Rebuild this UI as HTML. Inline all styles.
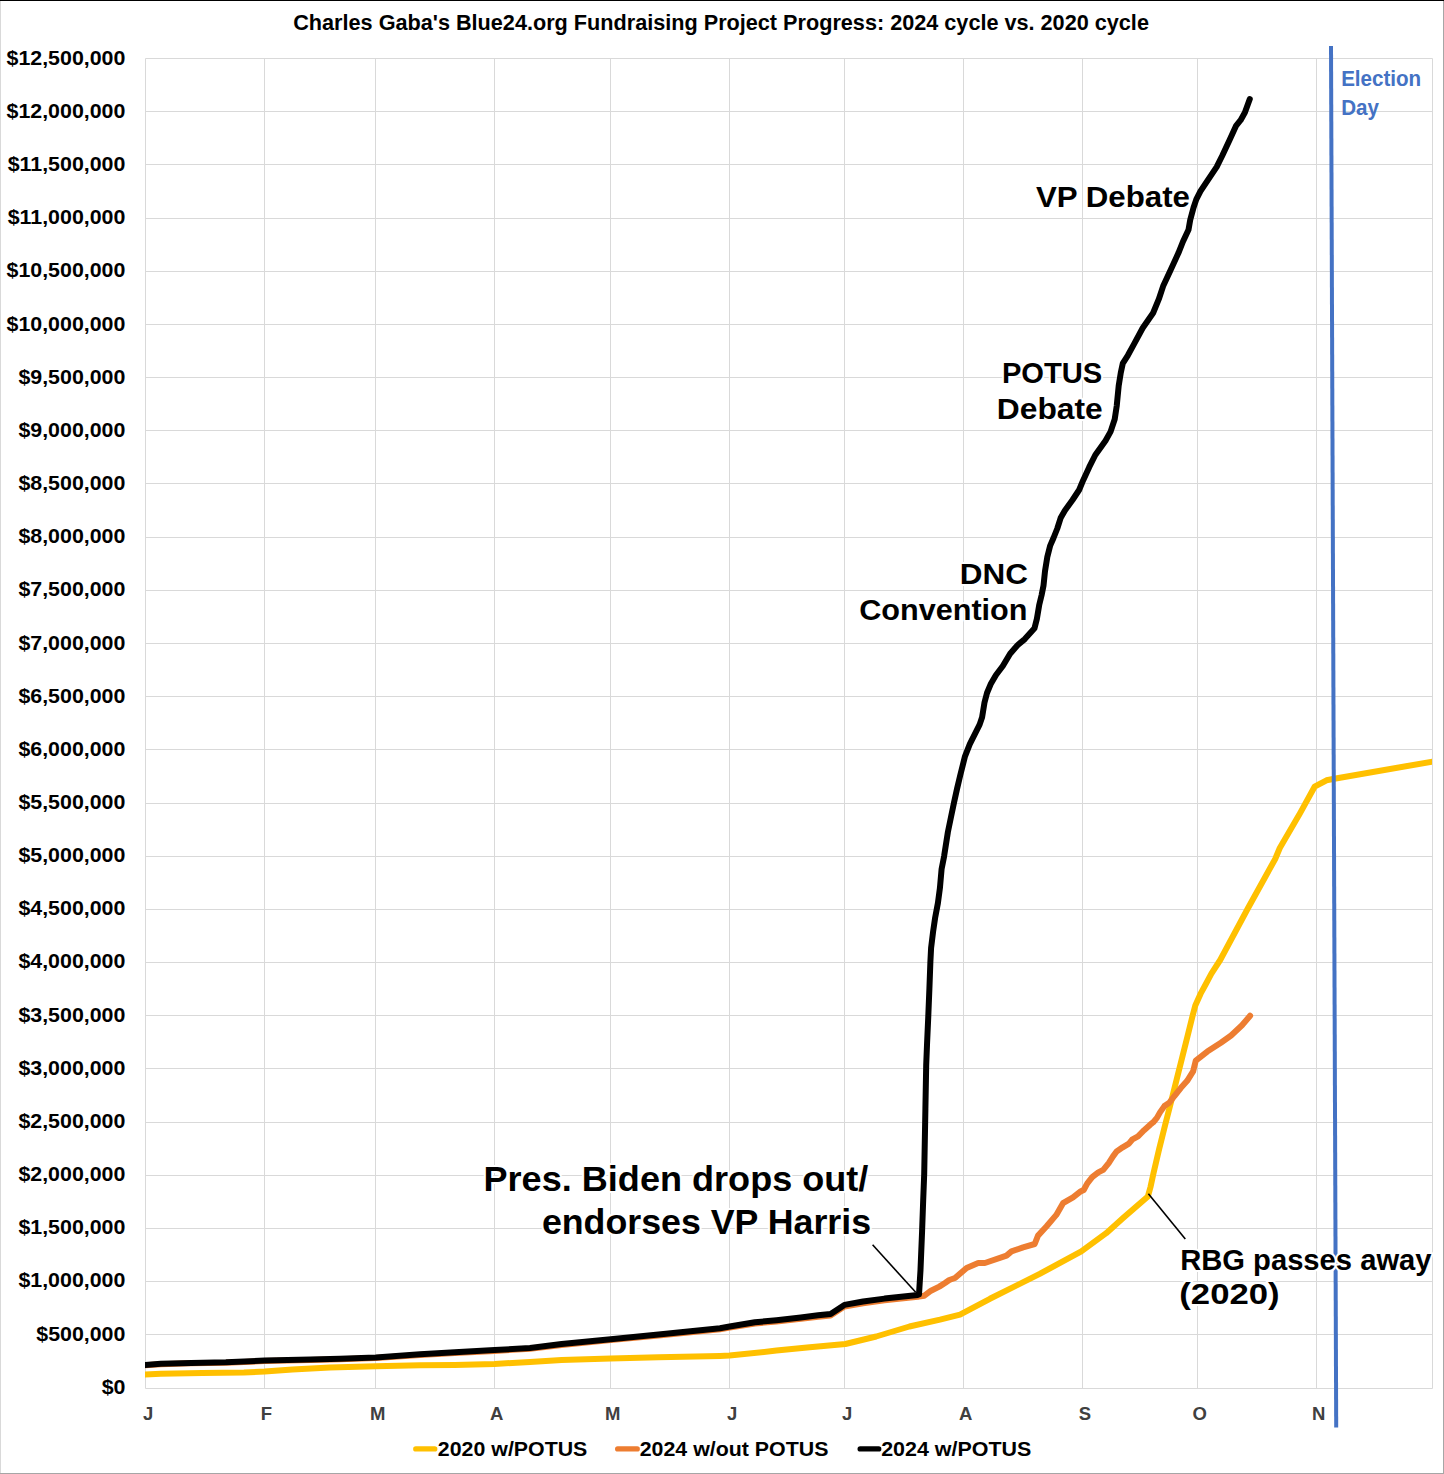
<!DOCTYPE html>
<html><head><meta charset="utf-8"><style>
html,body{margin:0;padding:0;background:#fff;}
body{width:1444px;height:1474px;overflow:hidden;position:relative;}
svg{position:absolute;left:0;top:0;}
svg text{font-family:"Liberation Sans",sans-serif;font-weight:bold;}
</style></head><body>
<svg width="1444" height="1474" viewBox="0 0 1444 1474">
<path d="M145.5 58.5V1388.5M264.5 58.5V1388.5M375.5 58.5V1388.5M494.5 58.5V1388.5M610.5 58.5V1388.5M729.5 58.5V1388.5M844.5 58.5V1388.5M963.5 58.5V1388.5M1082.5 58.5V1388.5M1197.5 58.5V1388.5M1316.5 58.5V1388.5M1432.5 58.5V1388.5M145.5 58.5H1432.5M145.5 111.5H1432.5M145.5 164.5H1432.5M145.5 218.5H1432.5M145.5 271.5H1432.5M145.5 324.5H1432.5M145.5 377.5H1432.5M145.5 430.5H1432.5M145.5 483.5H1432.5M145.5 537.5H1432.5M145.5 590.5H1432.5M145.5 643.5H1432.5M145.5 696.5H1432.5M145.5 749.5H1432.5M145.5 803.5H1432.5M145.5 856.5H1432.5M145.5 909.5H1432.5M145.5 962.5H1432.5M145.5 1015.5H1432.5M145.5 1068.5H1432.5M145.5 1122.5H1432.5M145.5 1175.5H1432.5M145.5 1228.5H1432.5M145.5 1281.5H1432.5M145.5 1334.5H1432.5M145.5 1388.5H1432.5" stroke="#d9d9d9" stroke-width="1" fill="none"/>
<clipPath id="pc"><rect x="145" y="40" width="1287" height="1360"/></clipPath>
<g clip-path="url(#pc)">
<polyline points="145.0,1374.6 160.8,1373.7 202.3,1373.0 243.9,1372.5 264.7,1371.6 292.4,1369.5 330.0,1367.4 375.7,1366.3 420.0,1365.3 454.7,1364.9 494.5,1363.9 530.0,1361.9 561.6,1360.0 610.7,1358.6 658.5,1357.2 720.0,1355.9 729.6,1355.6 776.5,1350.6 809.7,1347.3 845.4,1344.0 876.2,1336.5 909.4,1326.5 940.0,1319.6 960.0,1314.6 989.9,1298.8 1039.7,1273.9 1081.3,1251.4 1106.2,1233.2 1122.8,1218.2 1147.9,1196.4 1150.5,1187.0 1153.4,1173.6 1159.1,1149.2 1165.2,1124.8 1171.4,1100.4 1176.9,1078.5 1182.3,1057.0 1187.7,1035.5 1192.4,1016.5 1195.3,1005.5 1200.5,993.9 1206.0,983.8 1211.4,973.6 1220.2,960.0 1247.8,908.5 1275.2,859.0 1279.8,848.0 1299.0,815.1 1314.6,786.7 1326.5,780.3 1335.7,778.5 1432.4,761.6" stroke="#FFC000" stroke-width="6" fill="none" stroke-linejoin="round" stroke-linecap="round"/>
<polyline points="145.0,1365.3 160.8,1364.2 191.2,1363.3 225.9,1362.7 264.7,1361.0 310.4,1360.0 340.0,1359.3 375.7,1358.0 420.0,1354.9 454.7,1352.9 494.5,1350.9 530.0,1348.8 561.6,1345.0 610.7,1340.1 658.5,1335.4 720.0,1329.3 729.6,1327.6 754.9,1323.5 776.5,1321.5 800.8,1318.8 818.1,1316.8 830.6,1315.4 844.4,1306.5 863.1,1303.2 884.5,1300.4 917.7,1296.8 919.0,1296.4 924.4,1295.7 931.0,1290.7 939.3,1286.6 945.0,1283.0 949.3,1280.0 955.0,1278.0 966.6,1268.0 978.2,1263.0 984.9,1263.0 1006.5,1255.6 1011.5,1251.4 1023.1,1247.3 1034.7,1244.0 1038.0,1235.6 1046.4,1226.5 1056.3,1214.9 1063.0,1203.2 1073.0,1197.4 1080.0,1191.8 1083.7,1190.0 1087.3,1183.3 1092.2,1177.2 1098.3,1172.3 1103.2,1169.8 1108.7,1163.1 1113.0,1156.4 1116.6,1151.5 1122.7,1147.3 1128.9,1143.6 1132.5,1139.3 1138.0,1136.3 1144.1,1130.2 1150.2,1124.7 1153.3,1122.2 1156.9,1117.9 1160.0,1112.4 1164.4,1106.1 1169.3,1102.8 1174.2,1096.3 1180.7,1088.1 1187.2,1080.8 1193.1,1071.4 1195.8,1060.6 1207.3,1051.6 1220.9,1042.8 1231.1,1035.5 1242.0,1025.3 1250.1,1015.8" stroke="#ED7D31" stroke-width="6" fill="none" stroke-linejoin="round" stroke-linecap="round"/>
<polyline points="145.0,1364.9 160.8,1363.8 191.2,1362.9 225.9,1362.2 264.7,1360.5 310.4,1359.4 340.0,1358.7 375.7,1357.4 420.0,1354.2 454.7,1352.2 494.5,1350.1 530.0,1348.0 561.6,1344.1 610.7,1339.2 658.5,1334.4 720.0,1328.2 729.6,1326.5 754.9,1322.3 776.5,1320.2 800.8,1317.4 818.1,1315.3 830.6,1313.9 844.4,1304.9 863.1,1301.5 884.5,1298.6 917.7,1294.9 919.0,1294.5 920.5,1270.0 922.1,1231.0 923.2,1200.0 924.2,1174.0 925.4,1108.9 926.2,1065.0 927.0,1045.0 928.3,1015.9 929.4,988.7 930.4,961.5 931.1,947.9 933.1,931.6 935.1,918.0 937.9,903.1 939.9,888.2 941.6,869.0 944.1,856.3 947.9,832.0 951.0,817.0 954.0,802.7 957.0,789.0 960.1,775.9 965.0,756.3 969.8,744.1 979.6,724.6 982.1,717.2 984.5,702.6 987.0,693.0 990.6,684.3 996.0,675.0 1002.8,666.0 1010.1,653.7 1017.5,645.2 1024.8,639.1 1034.5,628.3 1036.9,618.8 1039.3,604.6 1041.6,595.1 1043.5,585.6 1045.0,571.3 1047.3,557.0 1050.2,545.6 1053.5,538.0 1057.3,528.5 1060.6,518.1 1064.9,510.5 1072.5,500.0 1079.1,490.0 1083.1,480.4 1089.2,467.2 1095.3,455.0 1105.5,440.7 1110.6,431.6 1114.7,419.3 1116.7,406.1 1118.7,385.8 1120.8,372.6 1122.8,363.4 1127.9,355.3 1134.0,344.1 1142.7,328.0 1153.1,313.0 1158.8,299.2 1163.4,285.4 1170.4,270.4 1178.4,253.1 1183.0,241.5 1188.5,229.8 1190.2,220.0 1193.5,207.7 1196.3,199.4 1200.5,191.1 1206.0,182.8 1216.7,166.9 1222.1,156.0 1229.7,139.7 1236.2,125.6 1240.6,120.2 1244.9,112.6 1249.8,99.0" stroke="#000" stroke-width="6" fill="none" stroke-linejoin="round" stroke-linecap="round"/>
</g>
<line x1="1331" y1="46" x2="1336.2" y2="1427.6" stroke="#4472C4" stroke-width="4"/>
<line x1="872.6" y1="1244.8" x2="915.7" y2="1292.3" stroke="#000" stroke-width="1.6"/>
<line x1="1148.4" y1="1193.7" x2="1185.3" y2="1239" stroke="#000" stroke-width="1.6"/>
<text transform="translate(293.21,29.70) scale(0.9671,1)" font-size="22.4" fill="#000" >Charles Gaba's Blue24.org Fundraising Project Progress: 2024 cycle vs. 2020 cycle</text>
<text transform="translate(101.67,1393.70) scale(1.0694,1)" font-size="20.0" fill="#000" >$0</text>
<text transform="translate(36.25,1340.54) scale(1.0694,1)" font-size="20.0" fill="#000" >$500,000</text>
<text transform="translate(18.41,1287.39) scale(1.0694,1)" font-size="20.0" fill="#000" >$1,000,000</text>
<text transform="translate(18.41,1234.23) scale(1.0694,1)" font-size="20.0" fill="#000" >$1,500,000</text>
<text transform="translate(18.41,1181.08) scale(1.0694,1)" font-size="20.0" fill="#000" >$2,000,000</text>
<text transform="translate(18.41,1127.92) scale(1.0694,1)" font-size="20.0" fill="#000" >$2,500,000</text>
<text transform="translate(18.41,1074.76) scale(1.0694,1)" font-size="20.0" fill="#000" >$3,000,000</text>
<text transform="translate(18.41,1021.61) scale(1.0694,1)" font-size="20.0" fill="#000" >$3,500,000</text>
<text transform="translate(18.41,968.45) scale(1.0694,1)" font-size="20.0" fill="#000" >$4,000,000</text>
<text transform="translate(18.41,915.30) scale(1.0694,1)" font-size="20.0" fill="#000" >$4,500,000</text>
<text transform="translate(18.41,862.14) scale(1.0694,1)" font-size="20.0" fill="#000" >$5,000,000</text>
<text transform="translate(18.41,808.98) scale(1.0694,1)" font-size="20.0" fill="#000" >$5,500,000</text>
<text transform="translate(18.41,755.83) scale(1.0694,1)" font-size="20.0" fill="#000" >$6,000,000</text>
<text transform="translate(18.41,702.67) scale(1.0694,1)" font-size="20.0" fill="#000" >$6,500,000</text>
<text transform="translate(18.41,649.52) scale(1.0694,1)" font-size="20.0" fill="#000" >$7,000,000</text>
<text transform="translate(18.41,596.36) scale(1.0694,1)" font-size="20.0" fill="#000" >$7,500,000</text>
<text transform="translate(18.41,543.20) scale(1.0694,1)" font-size="20.0" fill="#000" >$8,000,000</text>
<text transform="translate(18.41,490.05) scale(1.0694,1)" font-size="20.0" fill="#000" >$8,500,000</text>
<text transform="translate(18.41,436.89) scale(1.0694,1)" font-size="20.0" fill="#000" >$9,000,000</text>
<text transform="translate(18.41,383.74) scale(1.0694,1)" font-size="20.0" fill="#000" >$9,500,000</text>
<text transform="translate(6.52,330.58) scale(1.0694,1)" font-size="20.0" fill="#000" >$10,000,000</text>
<text transform="translate(6.52,277.42) scale(1.0694,1)" font-size="20.0" fill="#000" >$10,500,000</text>
<text transform="translate(7.70,224.27) scale(1.0694,1)" font-size="20.0" fill="#000" >$11,000,000</text>
<text transform="translate(7.70,171.11) scale(1.0694,1)" font-size="20.0" fill="#000" >$11,500,000</text>
<text transform="translate(6.52,117.96) scale(1.0694,1)" font-size="20.0" fill="#000" >$12,000,000</text>
<text transform="translate(6.52,64.80) scale(1.0694,1)" font-size="20.0" fill="#000" >$12,500,000</text>
<text transform="translate(143.05,1419.90) scale(1.0000,1)" font-size="18.5" fill="#404040" >J</text>
<text transform="translate(260.77,1419.90) scale(1.0000,1)" font-size="18.5" fill="#404040" >F</text>
<text transform="translate(369.99,1419.90) scale(1.0000,1)" font-size="18.5" fill="#404040" >M</text>
<text transform="translate(490.04,1419.90) scale(1.0000,1)" font-size="18.5" fill="#404040" >A</text>
<text transform="translate(604.99,1419.90) scale(1.0000,1)" font-size="18.5" fill="#404040" >M</text>
<text transform="translate(727.05,1419.90) scale(1.0000,1)" font-size="18.5" fill="#404040" >J</text>
<text transform="translate(842.05,1419.90) scale(1.0000,1)" font-size="18.5" fill="#404040" >J</text>
<text transform="translate(959.04,1419.90) scale(1.0000,1)" font-size="18.5" fill="#404040" >A</text>
<text transform="translate(1078.63,1419.90) scale(1.0000,1)" font-size="18.5" fill="#404040" >S</text>
<text transform="translate(1192.51,1419.90) scale(1.0000,1)" font-size="18.5" fill="#404040" >O</text>
<text transform="translate(1312.03,1419.90) scale(1.0000,1)" font-size="18.5" fill="#404040" >N</text>
<text transform="translate(1341.14,86.00) scale(0.9450,1)" font-size="21.8" fill="#4472C4" >Election</text>
<text transform="translate(1341.14,114.70) scale(0.9450,1)" font-size="21.8" fill="#4472C4" >Day</text>
<text transform="translate(1036.01,206.80) scale(1.0317,1)" font-size="30.3" fill="#000" stroke="#fff" stroke-width="4" paint-order="stroke" stroke-linejoin="round">VP Debate</text>
<text transform="translate(1001.88,383.00) scale(0.9624,1)" font-size="30.3" fill="#000" stroke="#fff" stroke-width="4" paint-order="stroke" stroke-linejoin="round">POTUS</text>
<text transform="translate(996.80,418.90) scale(1.0491,1)" font-size="30.3" fill="#000" stroke="#fff" stroke-width="4" paint-order="stroke" stroke-linejoin="round">Debate</text>
<text transform="translate(959.72,583.60) scale(1.0380,1)" font-size="30.3" fill="#000" stroke="#fff" stroke-width="4" paint-order="stroke" stroke-linejoin="round">DNC</text>
<text transform="translate(859.25,619.70) scale(1.0102,1)" font-size="30.3" fill="#000" stroke="#fff" stroke-width="4" paint-order="stroke" stroke-linejoin="round">Convention</text>
<text transform="translate(483.52,1191.40) scale(1.0371,1)" font-size="34.8" fill="#000" stroke="#fff" stroke-width="4" paint-order="stroke" stroke-linejoin="round">Pres. Biden drops out/</text>
<text transform="translate(541.91,1234.40) scale(1.0277,1)" font-size="34.8" fill="#000" stroke="#fff" stroke-width="4" paint-order="stroke" stroke-linejoin="round">endorses VP Harris</text>
<text transform="translate(1180.17,1269.50) scale(0.9864,1)" font-size="29.6" fill="#000" stroke="#fff" stroke-width="4" paint-order="stroke" stroke-linejoin="round">RBG passes away</text>
<text transform="translate(1179.30,1304.20) scale(1.1721,1)" font-size="29.6" fill="#000" stroke="#fff" stroke-width="4" paint-order="stroke" stroke-linejoin="round">(2020)</text>
<line x1="415.8" y1="1448.9" x2="434.7" y2="1448.9" stroke="#FFC000" stroke-width="5.4" stroke-linecap="round"/>
<text transform="translate(437.87,1455.70) scale(1.0896,1)" font-size="19.6" fill="#000" >2020 w/POTUS</text>
<line x1="617.7" y1="1448.9" x2="637.1999999999999" y2="1448.9" stroke="#ED7D31" stroke-width="5.4" stroke-linecap="round"/>
<text transform="translate(639.67,1455.70) scale(1.0906,1)" font-size="19.6" fill="#000" >2024 w/out POTUS</text>
<line x1="860.2" y1="1448.9" x2="878.6999999999999" y2="1448.9" stroke="#000" stroke-width="5.4" stroke-linecap="round"/>
<text transform="translate(881.17,1455.70) scale(1.0940,1)" font-size="19.6" fill="#000" >2024 w/POTUS</text>
<path d="M0.5 1V1474" stroke="#d9d9d9" stroke-width="1"/>
<path d="M1443.5 1V1474M0 1473.5H1444" stroke="#a6a6a6" stroke-width="1"/>
<path d="M0 0.5H1444" stroke="#000" stroke-width="1"/>
</svg>
</body></html>
